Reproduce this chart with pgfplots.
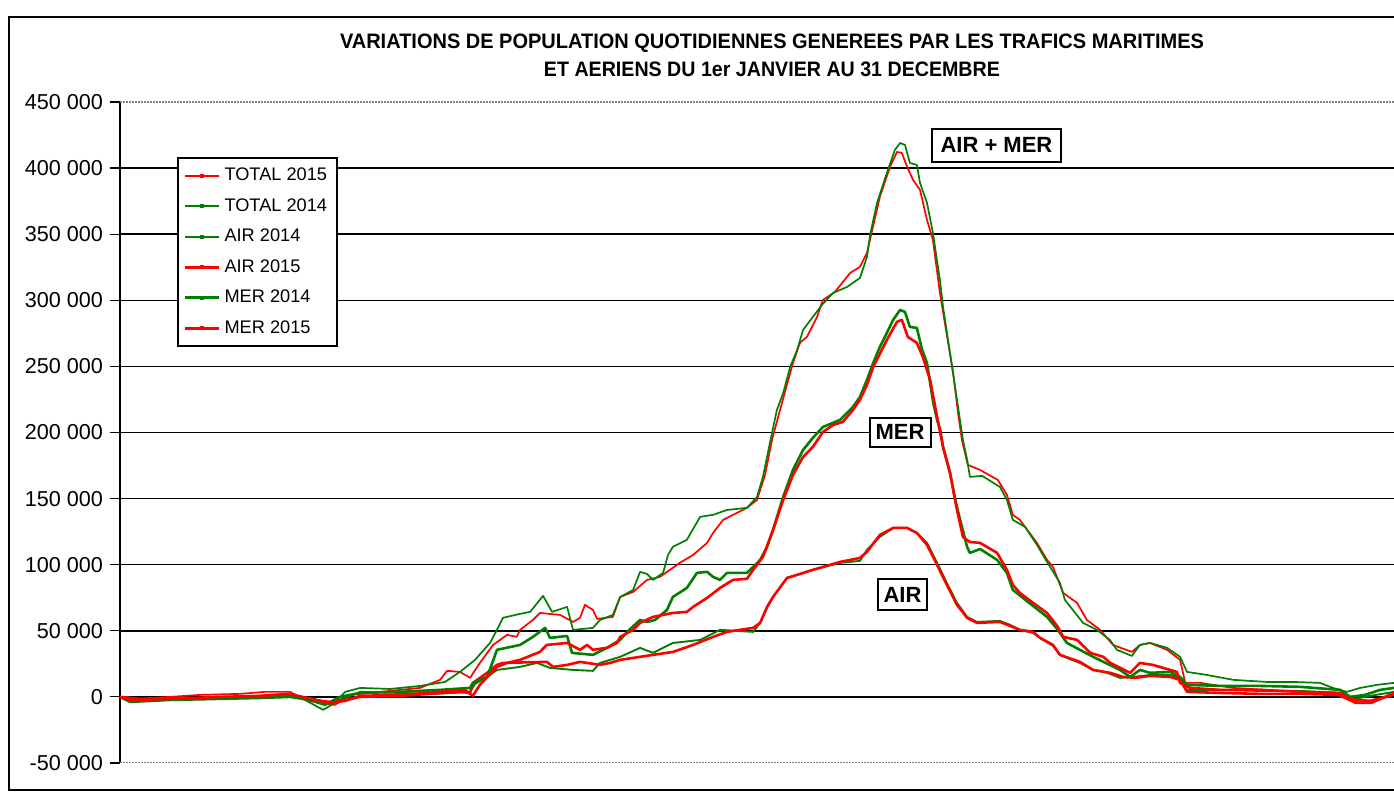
\documentclass[border=0pt]{standalone}
\usepackage{fontspec}
\setmainfont{Liberation Sans}
\usepackage{pgfplots}
\pgfplotsset{compat=1.18}
\definecolor{xlred}{RGB}{255,0,0}
\definecolor{xlgreen}{RGB}{0,128,0}
\begin{document}
\begin{tikzpicture}
\useasboundingbox (0pt,0pt) rectangle (697pt,396pt);
\draw[line width=1pt] (700pt,387.5pt) -- (4.5pt,387.5pt) -- (4.5pt,1pt) -- (700pt,1pt);
\node at (386pt,374.5pt) {\resizebox{432pt}{7.3pt}{\bfseries VARIATIONS DE POPULATION QUOTIDIENNES GENEREES PAR LES TRAFICS MARITIMES}};
\node at (386pt,361.5pt) {\resizebox{228pt}{7.3pt}{\bfseries ET AERIENS DU 1er JANVIER AU 31 DECEMBRE}};
\begin{axis}[
  at={(60pt,14.5pt)}, anchor=south west, scale only axis,
  width=637pt, height=330.5pt,
  xmin=0, xmax=365, ymin=-50000, ymax=450000,
  xtick=\empty,
  ytick={0,50000,100000,150000,200000,250000,300000,350000,400000},
  extra y ticks={-50000,450000},
  extra y tick style={grid=none},
  scaled y ticks=false,
  ymajorgrids, grid style={black, line width=0.75pt},
  axis x line=none, axis y line*=left,
  y axis line style={black, line width=1.2pt},
  tick align=outside, major tick length=5pt,
  ytick style={black, line width=0.6pt},
  yticklabel style={font=\fontsize{10.8}{13}\selectfont, text=black},
  /pgf/number format/fixed,
  /pgf/number format/1000 sep={\ },
  /pgf/number format/assume math mode=true,
  no marks,
  legend style={at={(0.0447,0.917)}, anchor=north west, draw=black, line width=1pt, fill=white,
    font=\fontsize{9.1}{11}\selectfont, row sep=3.4pt, inner ysep=3pt},
  legend cell align=left,
  legend image code/.code={
    \draw[#1] (0pt,0pt) -- (17pt,0pt);
    \fill[#1, draw=none] (7.5pt,-1pt) rectangle (9.5pt,1pt);
  },
]
\draw[gray, line width=0.8pt, dash pattern=on 1pt off 0.5pt] (rel axis cs:0,0) -- (rel axis cs:1,0);
\draw[gray, line width=0.8pt, dash pattern=on 1pt off 0.5pt] (rel axis cs:0,1) -- (rel axis cs:1,1);
\draw[black, line width=1.2pt] (axis cs:0,0) -- (axis cs:365,0);

% TOTAL 2015
\addplot[color=xlred, line width=0.85pt, line join=round] coordinates {
(0,0) (4.3,-1500) (14.3,0) (22.9,1500) (34.4,2300) (41.5,3800) (48.7,3800) (53,-2300) (58.2,-5300) (61.6,-6000) (65.9,1500) (74.5,3800) (86,6800) (91.7,12900) (93.7,19700) (97.4,18900) (100.3,14400) (103.1,25700) (106.9,39300) (110.9,46900) (113.7,45400) (114.6,50700) (118.3,58200) (120.3,63500) (126.1,62000) (129.8,56700) (131.8,59800) (133.2,69600) (135.5,65800) (136.7,59000) (141.2,60500) (143.3,75600) (147,79400) (151,88500) (154.7,90800) (160.4,101400) (164.2,107400) (168.2,116500) (169.9,124000) (172.8,133900) (179.6,143000) (182.5,149000) (184.8,167900) (186.8,194400) (189.1,217100) (192.8,252600) (194.8,267800) (196.8,272300) (199.7,287400) (201.4,300300) (204.8,306300) (209.2,320700) (212,325300) (214,335800) (217.7,378200) (220.6,400900) (222.6,412200) (224,411500) (225.5,400900) (227.2,391100) (229.2,383500) (231.2,360800) (232.9,345700) (234.9,305600) (238.7,245100) (240.1,214800) (241.2,194400) (242.9,175500) (246.4,171700) (251.5,164100) (254.1,152800) (255.8,137700) (257.8,133900) (262.7,116500) (265.6,103600) (267.3,98300) (270.2,78700) (274.2,71100) (277,58200) (280.8,50700) (284.5,39300) (289.9,34000) (292.2,39300) (295.1,40800) (300,35600) (303.7,28000) (305.2,10600) (309.5,10600) (318.9,6800) (328.6,5300) (338.1,3800) (347.5,3000) (353.2,-3800) (358.9,-4500) (361.8,-800) (365,1500)
};
\addlegendentry{TOTAL 2015}
% TOTAL 2014
\addplot[color=xlgreen, line width=0.85pt, line join=round] coordinates {
(0,0) (4.3,-3000) (11.5,-1500) (22.9,-800) (34.4,0) (43,1500) (48.7,2300) (53,-2300) (58.2,-9800) (61.6,-4500) (64.5,3800) (68.8,6800) (77.4,6000) (86,8300) (93.1,11300) (97.4,18900) (101.7,28000) (106,40800) (108,50700) (109.7,59800) (114.6,62800) (117.5,64300) (121.2,76400) (123.8,64300) (128.1,68100) (129.8,50700) (135.5,52200) (137.5,58200) (141.2,62000) (143.3,75600) (147,80900) (149,94600) (151,93000) (152.7,88500) (155.6,93800) (157,107400) (158.4,113500) (162.4,118800) (166.2,136200) (169.9,137700) (173.9,141400) (179.6,143000) (182.5,151300) (184.2,166400) (186.2,192100) (188.2,217100) (190,229900) (192,249600) (194,262500) (195.7,277600) (198.5,287400) (201.1,296500) (204.3,305600) (208.3,310100) (212,316900) (214,332800) (214.9,349500) (216.9,373700) (219.7,396300) (222,413800) (223.5,419000) (224.9,417500) (226.3,403900) (228.3,402400) (229.2,388800) (231.2,373700) (232.9,351000) (234.9,315400) (235.8,295000) (237.8,260200) (240.1,219400) (241.5,194400) (242.7,179300) (243.5,166400) (247,167200) (252.1,158800) (254.1,149000) (255.8,133900) (259.3,128600) (262.7,115000) (265.6,102100) (269.3,86200) (270.7,73400) (275.9,56000) (279.9,50700) (283.6,43100) (285.6,35600) (289.9,31000) (292.2,39300) (295.1,40800) (300,37100) (303.7,30300) (305.7,18900) (311.4,16600) (318.9,12900) (328.6,11300) (336.1,11300) (343.8,10600) (347.5,6800) (351.5,3800) (355.3,6800) (360.1,9100) (365,10600)
};
\addlegendentry{TOTAL 2014}
% AIR 2014
\addplot[color=xlgreen, line width=0.95pt, line join=round] coordinates {
(0,0) (5.7,-2300) (22.9,-800) (40.1,0) (48.7,1500) (54.4,-800) (60.2,-4500) (64.5,-800) (68.8,3800) (80.2,3000) (88.8,2300) (95.4,3000) (100.3,3800) (101.7,9800) (105.2,15100) (108,20400) (114.6,22700) (119.5,25700) (123.2,21900) (129.8,20400) (135.5,19700) (137.5,25700) (143.3,30300) (149,37100) (152.7,33300) (158.4,40800) (166.2,43100) (171.9,50700) (181.4,49200) (183.4,56000) (185.4,68100) (187.1,75600) (191.1,90000) (194,92300) (198.5,96100) (206.3,101400) (212,102900) (214,111200) (217.7,121000) (221.5,127800) (225.5,127800) (228.3,124000) (231.2,116500) (234.1,101400) (236.9,86200) (239.8,71100) (242.7,60500) (245.5,56700) (252.1,57500) (255,54500) (257.8,50700) (261.6,48400) (263.6,44600) (267.3,38600) (269.3,31800) (271.3,29500) (275,25700) (278.8,20400) (282.8,18200) (286.5,14400) (290.2,15100) (295.1,16600) (300.9,16600) (303.7,14400) (305.7,5300) (315.2,5300) (326.6,4500) (338.1,4500) (349.6,3000) (353.9,-1500) (358.2,800) (365,3800)
};
\addlegendentry{AIR 2014}
% AIR 2015
\addplot[color=xlred, line width=1.3pt, line join=round] coordinates {
(0,0) (5.7,-1500) (22.9,-1500) (40.1,0) (48.7,800) (54.4,-2300) (60.2,-3800) (64.5,-2300) (68.8,0) (80.2,800) (88.8,2300) (97.4,3800) (100.3,3000) (101.1,10600) (105.2,18200) (108,24200) (109.7,25700) (122.3,26500) (124.1,22700) (128.1,24200) (131.8,26500) (137.5,24200) (140.4,25700) (143.3,28000) (147,29500) (152.7,31800) (158.4,34000) (164.2,39300) (169.9,45400) (173.9,49200) (181.4,52200) (183.4,56000) (185.4,68100) (187.1,75600) (191.1,90000) (194,92300) (198.5,96100) (206.3,102100) (212,105100) (214,109700) (217.7,122500) (221.5,127800) (225.5,127800) (228.3,124000) (231.2,115000) (234.1,99800) (236.9,84700) (239.8,69600) (242.7,59800) (245.5,56000) (252.1,56700) (255,53700) (257.8,50700) (261.6,49200) (263.6,44600) (267.3,39300) (269.3,31800) (275,26500) (278.8,20400) (283.7,18200) (287.4,15100) (290.9,14400) (295.1,15900) (300.9,15100) (303.7,12900) (305.7,3800) (315.2,3000) (326.6,2300) (338.1,2300) (349.6,1500) (353.9,-2300) (358.2,-3000) (362.5,0) (365,2300)
};
\addlegendentry{AIR 2015}
% MER 2014
\addplot[color=xlgreen, line width=1.3pt, line join=round] coordinates {
(0,0) (2.9,-3800) (14.3,-2300) (28.7,-1500) (40.1,-800) (48.7,0) (54.4,-2300) (58.7,-6000) (63,0) (68.8,3000) (80.2,3800) (91.7,5300) (100.3,6800) (101.1,10600) (105.2,15100) (108,35600) (114.6,39300) (118.3,45400) (121.8,52200) (123.2,44600) (128.1,46100) (129.5,33300) (135.5,31800) (139.5,37100) (143.3,43100) (145.3,49200) (149,58200) (151,56700) (153.3,58200) (156.7,65800) (158.4,75600) (162.4,82400) (165.3,93800) (168.2,94600) (169.9,90800) (171.9,88500) (173.9,93800) (179.6,93800) (181.4,98300) (183.4,103600) (185.4,113500) (187.1,126300) (190,151300) (192.8,171700) (195.7,186800) (198.5,195900) (201.4,204200) (206.3,209500) (210,219400) (212,226900) (214,239800) (215.8,252600) (217.7,264700) (219.7,275300) (221.5,285200) (223.5,292700) (224.9,291200) (226.3,279900) (228.3,279100) (229.8,262500) (231.2,252600) (232.1,237500) (233,222400) (234.1,209500) (235,202000) (235.8,189100) (237.8,169400) (239.3,149000) (240.7,133900) (242.7,113500) (243.5,108900) (246.4,111900) (251.3,103600) (254.1,93800) (255.8,80900) (261.6,68800) (265.6,60500) (268.7,50700) (271.3,40800) (278.8,30300) (286.5,20400) (289.4,15100) (292.2,20400) (295.1,18200) (300.9,18900) (303.7,15100) (305.7,9100) (315.2,8300) (326.6,8300) (338.1,7600) (349.6,5300) (352.4,0) (356.7,1500) (361,5300) (365,6800)
};
\addlegendentry{MER 2014}
% MER 2015
\addplot[color=xlred, line width=1.3pt, line join=round] coordinates {
(0,0) (2.9,-2300) (14.3,-1500) (28.7,0) (40.1,800) (48.7,2300) (54.4,-1500) (60.2,-4500) (64.5,-3000) (68.8,800) (80.2,1500) (91.7,3800) (98.8,5300) (101.1,800) (103.1,9100) (108,22700) (110.9,25700) (114.6,28000) (120.3,34000) (122.3,39300) (128.1,40800) (131.8,35600) (133.8,39300) (135.5,35600) (139.5,37100) (142.4,40800) (143.3,45400) (147,50700) (149,56000) (152.7,60500) (158.4,63500) (162.4,64300) (164.2,68100) (168.2,74900) (171.9,82400) (175.6,88500) (179.6,89300) (181.4,96100) (184.2,105900) (187.1,126300) (190,149000) (192.8,167900) (195.7,181500) (198.5,189100) (201.4,200400) (204.3,205700) (207.1,208000) (210,217100) (212,224700) (214,236000) (215.8,249600) (219.7,270000) (222.6,283700) (224,285200) (225.7,272300) (228.3,267800) (230,257200) (232.1,239800) (234.1,211800) (235.8,189100) (237.8,169400) (239.8,141400) (241.5,121000) (243.5,117200) (246.4,116500) (251.3,108900) (254.1,96100) (255.8,84700) (257.8,78700) (261.6,71100) (265.6,63500) (268.7,52900) (270.2,45400) (274.2,43100) (278,33300) (281.7,30300) (283.7,25700) (289.4,18200) (292.2,25700) (295.9,24200) (302.8,18900) (303.7,10600) (306.6,6800) (315.2,5300) (326.6,5300) (338.1,3800) (349.6,3000) (353.9,-4500) (358.2,-4500) (362.5,0) (365,3000)
};
\addlegendentry{MER 2015}

\node[draw, line width=1pt, fill=white, font=\bfseries\fontsize{11}{13}\selectfont, inner xsep=4.5pt, minimum height=16.5pt] at (axis cs:251.1,417200) {AIR + MER};
\node[draw, line width=1pt, fill=white, font=\bfseries\fontsize{11}{13}\selectfont, inner xsep=3pt, minimum height=14.5pt] at (axis cs:223.5,200100) {MER};
\node[draw, line width=1pt, fill=white, font=\bfseries\fontsize{11}{13}\selectfont, inner xsep=2.7pt, minimum height=15.5pt] at (axis cs:224.2,77500) {AIR};
\end{axis}
\end{tikzpicture}
\end{document}
